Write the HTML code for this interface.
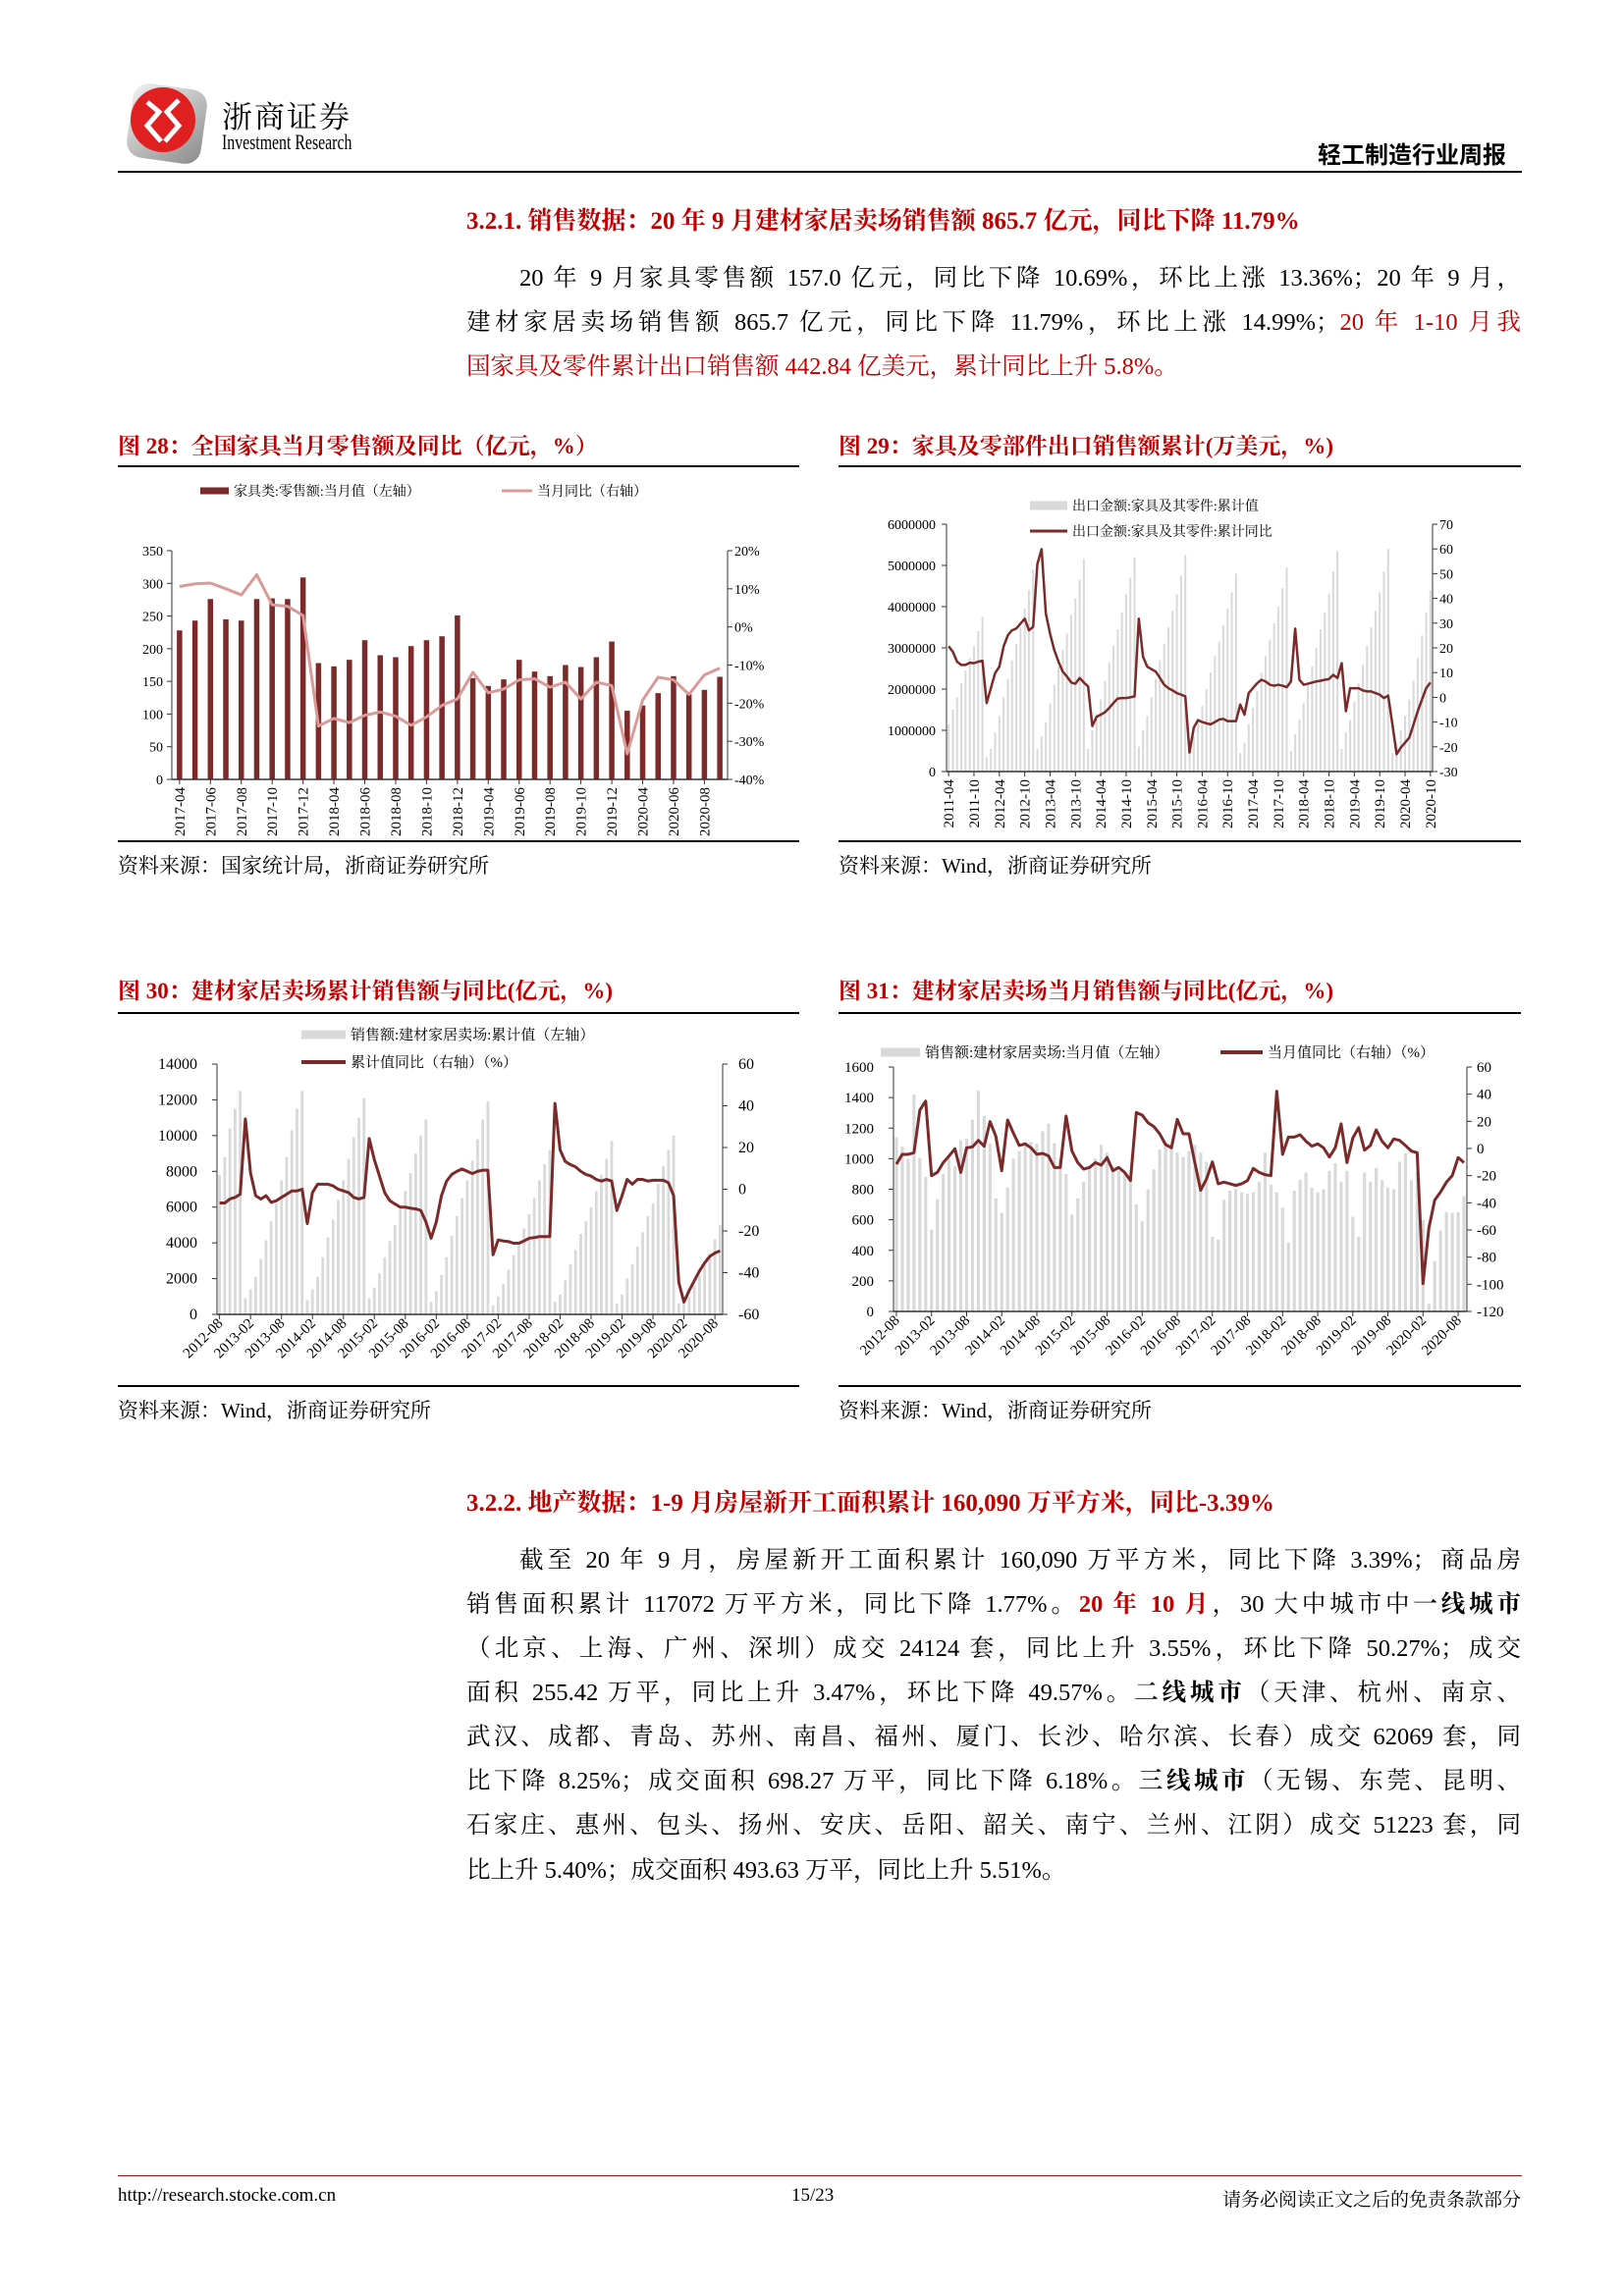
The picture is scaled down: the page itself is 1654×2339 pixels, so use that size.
<!DOCTYPE html>
<html><head><meta charset="utf-8">
<style>
html,body{margin:0;padding:0;background:#fff;}
body{width:1654px;height:2339px;position:relative;overflow:hidden;font-family:"Liberation Serif","Noto Serif CJK SC",serif;color:#000;}
.abs{position:absolute;white-space:nowrap;}
.red{color:#c00000;}
.h{font-weight:bold;color:#c00000;font-size:25px;}
.ct{font-weight:bold;color:#c00000;font-size:23px;}
.line{position:absolute;left:475px;width:1074px;font-size:24.5px;text-align:justify;text-align-last:justify;white-space:nowrap;line-height:30px;}
.rule{position:absolute;background:#000;}
.src{font-size:21px;}
</style></head>
<body>
<div>
  <svg class="abs" style="left:128px;top:84px" width="86" height="84">
    <defs><linearGradient id="lg" x1="0" y1="0" x2="1" y2="1"><stop offset="0" stop-color="#f2f2f2"/><stop offset="1" stop-color="#8a8a8a"/></linearGradient></defs>
    <rect x="4" y="4" width="76" height="76" rx="16" fill="url(#lg)" transform="rotate(8 42 42)"/>
    <circle cx="38" cy="38" r="33" fill="#e02020"/>
    <path d="M22 20 L34 30 L22 44 L36 60 M54 18 L42 30 L54 44 L40 60" stroke="#fff" stroke-width="5" fill="none"/>
  </svg>
  <div class="abs" style="left:226px;top:94px;font-size:31px;letter-spacing:2px">浙商证券</div>
  <div class="abs" style="left:226px;top:132px;font-size:22px;transform:scaleX(0.72);transform-origin:left">Investment Research</div>
  <div class="abs" style="right:120px;top:138px;font-size:24px;font-weight:bold;font-family:'Liberation Sans','Noto Sans CJK SC',sans-serif">轻工制造行业周报</div>
  <div class="rule" style="left:120px;top:174px;width:1430px;height:2px"></div>
</div>

<div class="abs h" style="left:475px;top:205px">3.2.1. 销售数据：20 年 9 月建材家居卖场销售额 865.7 亿元，同比下降 11.79%</div>
<div>
<div class="line" style="top:269px;left:529px;width:1020px">20 年 9 月家具零售额 157.0 亿元，同比下降 10.69%，环比上涨 13.36%；20 年 9 月，</div>
<div class="line" style="top:314px">建材家居卖场销售额 865.7 亿元，同比下降 11.79%，环比上涨 14.99%；<span class="red">20 年 1-10 月我</span></div>
<div class="line red" style="top:359px;text-align-last:left">国家具及零件累计出口销售额 442.84 亿美元，累计同比上升 5.8%。</div>
</div>

<div class="abs ct" style="left:120px;top:436px">图 28：全国家具当月零售额及同比（亿元，%）</div>
<div class="abs ct" style="left:854px;top:436px">图 29：家具及零部件出口销售额累计(万美元，%)</div>
<div class="rule" style="left:120px;top:474px;width:694px;height:2px"></div>
<div class="rule" style="left:854px;top:474px;width:695px;height:2px"></div>
<div class="rule" style="left:120px;top:856px;width:694px;height:2px"></div>
<div class="rule" style="left:854px;top:856px;width:695px;height:2px"></div>
<div class="abs src" style="left:120px;top:866px">资料来源：国家统计局，浙商证券研究所</div>
<div class="abs src" style="left:854px;top:866px">资料来源：Wind，浙商证券研究所</div>

<div class="abs ct" style="left:120px;top:991px">图 30：建材家居卖场累计销售额与同比(亿元，%)</div>
<div class="abs ct" style="left:854px;top:991px">图 31：建材家居卖场当月销售额与同比(亿元，%)</div>
<div class="rule" style="left:120px;top:1031px;width:694px;height:2px"></div>
<div class="rule" style="left:854px;top:1031px;width:695px;height:2px"></div>
<div class="rule" style="left:120px;top:1411px;width:694px;height:2px"></div>
<div class="rule" style="left:854px;top:1411px;width:695px;height:2px"></div>
<div class="abs src" style="left:120px;top:1421px">资料来源：Wind，浙商证券研究所</div>
<div class="abs src" style="left:854px;top:1421px">资料来源：Wind，浙商证券研究所</div>

<div class="abs h" style="left:475px;top:1511px">3.2.2. 地产数据：1-9 月房屋新开工面积累计 160,090 万平方米，同比-3.39%</div>
<div>
<div class="line" style="top:1575px;left:529px;width:1020px">截至 20 年 9 月，房屋新开工面积累计 160,090 万平方米，同比下降 3.39%；商品房</div>
<div class="line" style="top:1620px">销售面积累计 117072 万平方米，同比下降 1.77%。<b class="red">20 年 10 月</b>，30 大中城市中<b>一线城市</b></div>
<div class="line" style="top:1665px">（北京、上海、广州、深圳）成交 24124 套，同比上升 3.55%，环比下降 50.27%；成交</div>
<div class="line" style="top:1710px">面积 255.42 万平，同比上升 3.47%，环比下降 49.57%。<b>二线城市</b>（天津、杭州、南京、</div>
<div class="line" style="top:1755px">武汉、成都、青岛、苏州、南昌、福州、厦门、长沙、哈尔滨、长春）成交 62069 套，同</div>
<div class="line" style="top:1800px">比下降 8.25%；成交面积 698.27 万平，同比下降 6.18%。<b>三线城市</b>（无锡、东莞、昆明、</div>
<div class="line" style="top:1845px">石家庄、惠州、包头、扬州、安庆、岳阳、韶关、南宁、兰州、江阴）成交 51223 套，同</div>
<div class="line" style="top:1891px;text-align-last:left">比上升 5.40%；成交面积 493.63 万平，同比上升 5.51%。</div>
</div>

<div class="rule" style="left:120px;top:2216px;width:1430px;height:1px;background:#8b1a1a"></div>
<div class="abs" style="left:120px;top:2226px;font-size:19px">http://research.stocke.com.cn</div>
<div class="abs" style="left:806px;top:2226px;font-size:19px">15/23</div>
<div class="abs" style="right:105px;top:2226px;font-size:19px">请务必阅读正文之后的免责条款部分</div>

<svg id="charts" class="abs" style="left:0;top:0" width="1654" height="2339"></svg>

<script>
// ---------- Chart 28 data ----------
const cats28 = ['2017-04','2017-05','2017-06','2017-07','2017-08','2017-09','2017-10','2017-11','2017-12','2018-03','2018-04','2018-05','2018-06','2018-07','2018-08','2018-09','2018-10','2018-11','2018-12','2019-03','2019-04','2019-05','2019-06','2019-07','2019-08','2019-09','2019-10','2019-11','2019-12','2020-03','2020-04','2020-05','2020-06','2020-07','2020-08','2020-09'];
const retail28 = [228,243,276,245,243,276,277,276,309,178,173,183,213,190,187,204,213,219,251,155,143,153,183,165,158,175,172,187,211,105,113,132,158,130,137,157];
const yoy28 = [10.6,11.3,11.5,10,8.4,13.7,5.8,5.4,3.0,-26,-24,-25.1,-23.2,-22.3,-23.4,-25.8,-23.6,-20.6,-18.9,-11.9,-17.3,-16.3,-13.9,-13.6,-15.8,-14.5,-18.9,-14.5,-15.4,-33.3,-19.2,-13.2,-13.9,-17.7,-12.6,-10.8];
const leftTicks28 = [0,50,100,150,200,250,300,350];
const rightTicks28 = [-40,-30,-20,-10,0,10,20];

// ---------- Chart 29 data ----------
const start29 = '2011-04';
const export29 = [1150,1500,1800,2150,2450,2750,3050,3400,3750,
350,550,950,1350,1800,2250,2700,3100,3500,3950,4400,4900,
550,850,1200,1650,2100,2550,2950,3350,3800,4200,4650,5150,
550,1000,1400,1750,2200,2650,3050,3450,3850,4300,4700,5200,
600,1000,1350,1800,2250,2700,3100,3500,3900,4300,4750,5250,
500,850,1250,1600,2000,2400,2800,3150,3550,3950,4350,4800,
450,700,1150,1550,1950,2400,2800,3200,3600,4000,4450,4950,
500,900,1250,1650,2100,2550,3000,3450,3850,4300,4850,5350,
550,950,1250,1700,2150,2600,3050,3500,3900,4350,4850,5400,
450,700,1000,1350,1750,2200,2750,3300,3850,4400];
const yoy29 = [20.7,18.4,14.4,13.1,13.1,14,13.8,14.4,14.8,
-2.3,3.7,9.8,12.4,20.5,25.1,27.1,27.8,29.8,31.8,27.1,28.5,
53.9,59.9,33.9,25.8,19.1,14.4,10.4,8.4,6.0,5.5,7.8,6.0,
4.4,-11.6,-7.9,-7.0,-6.0,-4.3,-2.3,-0.5,-0.3,-0.3,0,0.4,
31.8,16.4,12.4,11.4,10.4,7.8,5.1,3.7,2.8,1.7,1.1,0.4,
-22.3,-12.3,-9.2,-10,-10.5,-10.9,-10,-9,-8.7,-9.6,-9.6,-9.6,
-2.9,-7.0,1.7,3.7,5.7,7.1,6.4,5.1,4.7,5.1,4.7,4.1,
6.4,27.8,7.1,5.1,5.5,6.0,6.4,6.7,7.1,7.4,9.1,7.8,
13.8,-5.6,3.7,3.7,3.7,2.8,2.4,2.4,1.7,1.1,-0.3,0.7,
-10.9,-23,-20.3,-18.3,-16.3,-11,-5.6,-0.9,3.7,6.0];
const leftTicks29 = [0,1000000,2000000,3000000,4000000,5000000,6000000];
const rightTicks29 = [-30,-20,-10,0,10,20,30,40,50,60,70];

// ---------- Chart 30 data ----------
const start30 = '2012-08';
const cum30 = [7800,8800,10400,11500,12500,
900,1400,2100,3100,4150,5200,6200,7500,8800,10300,11500,12500,
800,1400,2100,3200,4300,5300,6400,7500,8700,9900,11000,12100,
900,1500,2300,3200,4100,5000,5900,6900,7900,9000,10000,10900,
700,1300,2200,3200,4400,5500,6500,7500,8600,9800,10900,11900,
500,1000,1700,2500,3300,4000,4800,5600,6500,7500,8400,9200,
700,1100,1900,2800,3600,4500,5200,6000,6900,7800,8700,9700,
600,1100,2000,2800,3800,4600,5500,6200,7300,8300,9200,10000,
600,600,1000,1600,2200,2800,3400,4200,5000];
const yoy30 = [-6.6,-6.6,-4.7,-3.9,-2.4,
33.7,7.8,-3.1,-4.7,-3.1,-6.3,-5.5,-3.9,-2.4,-0.8,-0.8,0,
-16.5,-1.6,2.4,2.4,2.4,1.6,0,-0.8,-1.6,-3.9,-4.7,-3.9,
24.3,14.1,6.3,-1.6,-5.5,-7.1,-8.6,-8.6,-9.1,-9.4,-10.2,-15.7,
-23.5,-15.7,-3.1,3.9,7.1,8.6,9.7,8.6,7.5,8.6,9.1,9.1,
-31.4,-24.3,-24.8,-25.1,-25.9,-25.9,-24.8,-23.5,-23.2,-22.7,-22.7,-22.7,
41.1,18.8,13.3,11.8,10.7,8.6,7.1,6.3,4.7,3.9,4.7,3.9,
-10.2,-3.1,4.7,2.4,4.7,4.7,3.9,4.3,4.3,4.3,3.1,-3.1,
-44.7,-54.1,-48.6,-43.9,-39.2,-35.3,-32.2,-30.6,-29.5];
const leftTicks30 = [0,2000,4000,6000,8000,10000,12000,14000];
const rightTicks30 = [-60,-40,-20,0,20,40,60];

// ---------- Chart 31 data ----------
const start31 = '2012-08';
const month31 = [1140,1080,1000,1420,1005,880,535,735,900,1000,950,1120,1130,1255,1445,1280,1100,740,645,810,1000,1050,1110,1110,1100,1180,1230,1100,1000,900,635,740,850,950,1000,1090,1040,950,920,900,860,700,590,800,930,1060,1110,1070,1040,1010,1050,1090,1040,980,490,470,730,790,800,780,770,780,850,1040,830,780,680,450,790,860,910,810,780,800,920,970,850,920,620,490,910,850,940,860,810,800,980,1035,860,910,600,50,330,530,650,645,650,755];
const yoy31 = [-11.6,-4.3,-4.3,-3.1,28.2,34.9,-20,-17.6,-10.4,-5.5,-0.2,-17.6,0.5,1.2,6,1.7,19.8,8.9,-16.4,21,11.3,2.2,3.4,0.5,-4.3,-3.6,-5.5,-14,-14,23.9,-1.9,-10.4,-15.2,-14,-10.4,-12.3,-6.7,-16.4,-14,-17.6,-23.6,26.5,24.6,19,16.1,10.8,2.9,0.5,21.4,10.8,10.8,-10.4,-30.8,-22.4,-9.9,-26,-24.8,-26,-27.2,-26,-23.6,-14.7,-17.6,-19.3,-20,42.2,-4.3,8.4,8.4,10.1,5.3,1.7,3.4,0.5,-6.3,0.5,18.1,-10.4,7.7,15.4,-1.2,2.2,13.7,5.3,0.5,7,6,2.2,-1.9,-3.1,-99.5,-58.6,-38,-32,-24.8,-20,-6.7,-10.4];
const leftTicks31 = [0,200,400,600,800,1000,1200,1400,1600];
const rightTicks31 = [-120,-100,-80,-60,-40,-20,0,20,40,60];

function monthRange(start, n){
  let y=+start.slice(0,4), m=+start.slice(5,7); const out=[];
  for(let i=0;i<n;i++){ out.push(y+'-'+String(m).padStart(2,'0')); m++; if(m>12){m=1;y++;} }
  return out;
}
const cats29 = monthRange(start29, export29.length);
const cats30 = monthRange(start30, cum30.length);
const cats31 = monthRange(start31, month31.length);

const NS='http://www.w3.org/2000/svg';
const root=document.getElementById('charts');
function mk(tag, attrs, parent){
  const e=document.createElementNS(NS,tag);
  for(const k in attrs) e.setAttribute(k,attrs[k]);
  (parent||root).appendChild(e); return e;
}
function lin(d0,d1,r0,r1){return v=>r0+(v-d0)*(r1-r0)/(d1-d0);}
const FONT='"Liberation Serif","Noto Serif CJK SC",serif';

function chart(cfg){
  const g=mk('g',{});
  
  
  const n=cfg.cats.length;
  const band=(cfg.x1-cfg.x0)/n;
  const xs=i=>cfg.x0+band*(i+0.5);
  const yl=lin(cfg.lDom[0],cfg.lDom[1],cfg.yb,cfg.yt);
  const yr=lin(cfg.rDom[0],cfg.rDom[1],cfg.yb,cfg.yt);
  cfg.bars.forEach((v,i)=>{
    const r=mk('rect',{x:xs(i)-cfg.bw/2,y:yl(v),width:cfg.bw,height:Math.max(0,cfg.yb-yl(v)),fill:cfg.barColor},g);
    
    
  });
  const la=mk('line',{x1:cfg.x0,y1:cfg.yt,x2:cfg.x0,y2:cfg.yb,stroke:'#333','stroke-width':1},g);
  
  
  const ra=mk('line',{x1:cfg.x1,y1:cfg.yt,x2:cfg.x1,y2:cfg.yb,stroke:'#333','stroke-width':1},g);
  
  
  const xa=mk('line',{x1:cfg.x0,y1:cfg.yb,x2:cfg.x1,y2:cfg.yb,stroke:'#333','stroke-width':1.5},g);
  
  
  cfg.lTicks.forEach(v=>{
    mk('line',{x1:cfg.x0-5,y1:yl(v),x2:cfg.x0,y2:yl(v),stroke:'#333'},g);
    const t=mk('text',{x:cfg.lLabX,y:yl(v)+5,'text-anchor':'end','font-size':cfg.fs,'font-family':FONT,fill:'#000'},g);
    t.textContent=cfg.lFmt?cfg.lFmt(v):v;
    
    
  });
  cfg.rTicks.forEach(v=>{
    mk('line',{x1:cfg.x1,y1:yr(v),x2:cfg.x1+5,y2:yr(v),stroke:'#333'},g);
    const t=mk('text',{x:cfg.rLabX,y:yr(v)+5,'font-size':cfg.fs,'font-family':FONT,fill:'#000'},g);
    t.textContent=cfg.rFmt?cfg.rFmt(v):v;
    
    
  });
  cfg.cats.forEach((c,i)=>{
    if(!cfg.showLab(i)) return;
    const x=xs(i);
    mk('line',{x1:x,y1:cfg.yb,x2:x,y2:cfg.yb+5,stroke:'#333'},g);
    const t=mk('text',{'font-size':cfg.xfs,'font-family':FONT,fill:'#000','text-anchor':'end'},g);
    if(cfg.rot===-90){ t.setAttribute('transform',`translate(${x+5},${cfg.yb+8}) rotate(-90)`); }
    else { t.setAttribute('transform',`translate(${x+4},${cfg.yb+10}) rotate(-45)`); }
    t.textContent=c;
    
    
  });
  const p=mk('polyline',{points:cfg.line.map((v,i)=>xs(i)+','+yr(v)).join(' '),fill:'none',stroke:cfg.lineColor,'stroke-width':cfg.lw,'stroke-linejoin':'round'},g);
  
  
  cfg.legend.forEach(L=>{
    if(L.type==='bar'){
      const s=mk('rect',{x:L.x,y:L.y-L.h/2,width:L.w,height:L.h,fill:cfg.barColor},g);
      
      
    } else {
      const s=mk('line',{x1:L.x,y1:L.y,x2:L.x+L.w,y2:L.y,stroke:cfg.lineColor,'stroke-width':L.h},g);
      
      
    }
    const t=mk('text',{x:L.x+L.w+5,y:L.y+5,'font-size':L.fs||13,'font-family':FONT,fill:'#000'},g);
    t.textContent=L.text;
    
    
  });
}

chart({name:'chart-fig28',cats:cats28,bars:retail28,line:yoy28,x0:175,x1:741,yt:561,yb:794,
  lDom:[0,350],rDom:[-40,20],lTicks:leftTicks28,rTicks:rightTicks28,rFmt:v=>v+'%',
  lLabX:166,rLabX:748,fs:14,xfs:15,bw:5.5,barColor:'#7b2a2a',lineColor:'#d99a98',lw:3,rot:-90,
  showLab:i=>i%2===0,
  legend:[{type:'bar',x:204,y:500,w:29,h:7,text:'家具类:零售额:当月值（左轴）',fs:14},{type:'line',x:511,y:500,w:31,h:3,text:'当月同比（右轴）',fs:14}]});

chart({name:'chart-fig29',cats:cats29,bars:export29.map(v=>v*1000),line:yoy29,x0:964,x1:1459,yt:534,yb:786,
  lDom:[0,6000000],rDom:[-30,70],lTicks:leftTicks29,rTicks:rightTicks29,
  lLabX:953,rLabX:1466,fs:14,xfs:15,bw:2,barColor:'#d9d9d9',lineColor:'#7b2a2a',lw:2.5,rot:-90,
  showLab:i=>i%6===0,
  legend:[{type:'bar',x:1049,y:515,w:38,h:9,text:'出口金额:家具及其零件:累计值',fs:14},{type:'line',x:1049,y:541,w:38,h:3,text:'出口金额:家具及其零件:累计同比',fs:14}]});

chart({name:'chart-fig30',cats:cats30,bars:cum30,line:yoy30,x0:221,x1:736,yt:1084,yb:1339,
  lDom:[0,14000],rDom:[-60,60],lTicks:leftTicks30,rTicks:rightTicks30,
  lLabX:201,rLabX:752,fs:16,xfs:15,bw:2.8,barColor:'#d9d9d9',lineColor:'#7b2a2a',lw:3,rot:-45,
  showLab:i=>i%6===0,
  legend:[{type:'bar',x:307,y:1054,w:45,h:9,text:'销售额:建材家居卖场:累计值（左轴）',fs:15},{type:'line',x:307,y:1082,w:45,h:4,text:'累计值同比（右轴）（%）',fs:15}]});

chart({name:'chart-fig31',cats:cats31,bars:month31,line:yoy31,x0:910,x1:1494,yt:1087,yb:1336,
  lDom:[0,1600],rDom:[-120,60],lTicks:leftTicks31,rTicks:rightTicks31,
  lLabX:890,rLabX:1504,fs:15,xfs:15,bw:3.2,barColor:'#d9d9d9',lineColor:'#7b2a2a',lw:3,rot:-45,
  showLab:i=>i%6===0,
  legend:[{type:'bar',x:897,y:1072,w:40,h:9,text:'销售额:建材家居卖场:当月值（左轴）',fs:15},{type:'line',x:1243,y:1072,w:43,h:4,text:'当月值同比（右轴）（%）',fs:15}]});
</script>
</body></html>
